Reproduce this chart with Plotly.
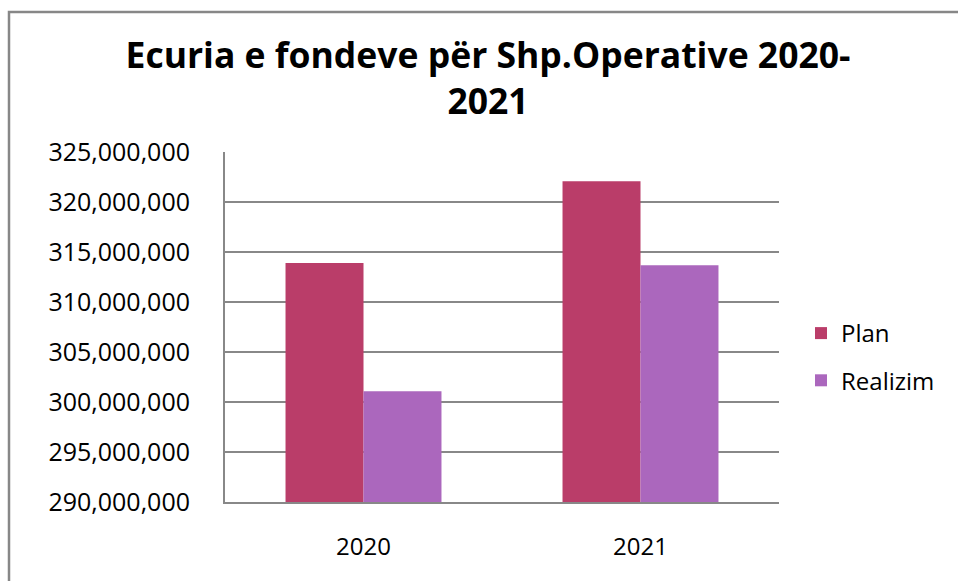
import plotly.graph_objects as go

categories = ["2020", "2021"]
plan = [313_900_000, 322_070_000]
realizim = [301_070_000, 313_670_000]
series_names = ["Plan", "Realizim"]
title_text = "Ecuria e fondeve për Shp.Operative 2020-<br>2021"

FONT = "Open Sans"
GRID = "#888888"

W, H = 958, 581
PL, PR, PT, PB = 225, 779, 152, 502  # plot area in pixels

fig = go.Figure()
fig.add_trace(go.Bar(x=categories, y=plan, name=series_names[0],
                     marker=dict(color="#BA3D69", line=dict(width=0)),
                     legendgroup="a"))
fig.add_trace(go.Bar(x=categories, y=realizim, name=series_names[1],
                     marker=dict(color="#AB67BD", line=dict(width=0)),
                     legendgroup="b"))

pw, ph = PR - PL, PB - PT
fig.update_layout(
    width=W, height=H,
    margin=dict(l=PL, r=W - PR, t=PT, b=H - PB),
    paper_bgcolor="white", plot_bgcolor="white",
    barmode="group", bargap=0.437, bargroupgap=0,
    font=dict(family=FONT, size=24, color="black"),
    title=dict(text=title_text, x=488/W, xref="container", xanchor="center",
               y=1 - 68/H, yref="container", yanchor="top",
               font=dict(family=FONT, size=35.5, color="black", weight="bold")),
    legend=dict(x=(801-PL)/pw, xanchor="left", y=(PB-311)/ph, yanchor="top",
                traceorder="grouped", tracegroupgap=13,
                font=dict(family=FONT, size=24, color="black"),
                bgcolor="rgba(0,0,0,0)"),
    showlegend=True,
)
fig.update_yaxes(range=[290_000_000, 325_000_000], dtick=5_000_000, tick0=290_000_000,
                 tickformat=",d", showgrid=True, gridcolor=GRID, gridwidth=2,
                 showline=True, linecolor=GRID, linewidth=2, ticks="",
                 ticklabelstandoff=28, zeroline=False,
                 tickfont=dict(family=FONT, size=25, color="black"))
fig.update_xaxes(showline=True, linecolor=GRID, linewidth=2, ticks="",
                 ticklabelstandoff=22, showgrid=False,
                 tickfont=dict(family=FONT, size=24, color="black"))

# outer chart border (only left and top edges are inside the picture)
bx0 = (9 - PL) / pw
by1 = (PB - 12) / ph
bx1 = (W + 20 - PL) / pw
by0 = (PB - H - 20) / ph
fig.add_shape(type="path", xref="paper", yref="paper",
              path=f"M {bx0} {by0} L {bx0} {by1} L {bx1} {by1}",
              line=dict(color="#878787", width=2.5), layer="below")

fig.write_html(
    "out.html",
    config={"displayModeBar": False},
    post_script="document.body.style.margin='0';document.body.style.overflow='hidden';",
)
